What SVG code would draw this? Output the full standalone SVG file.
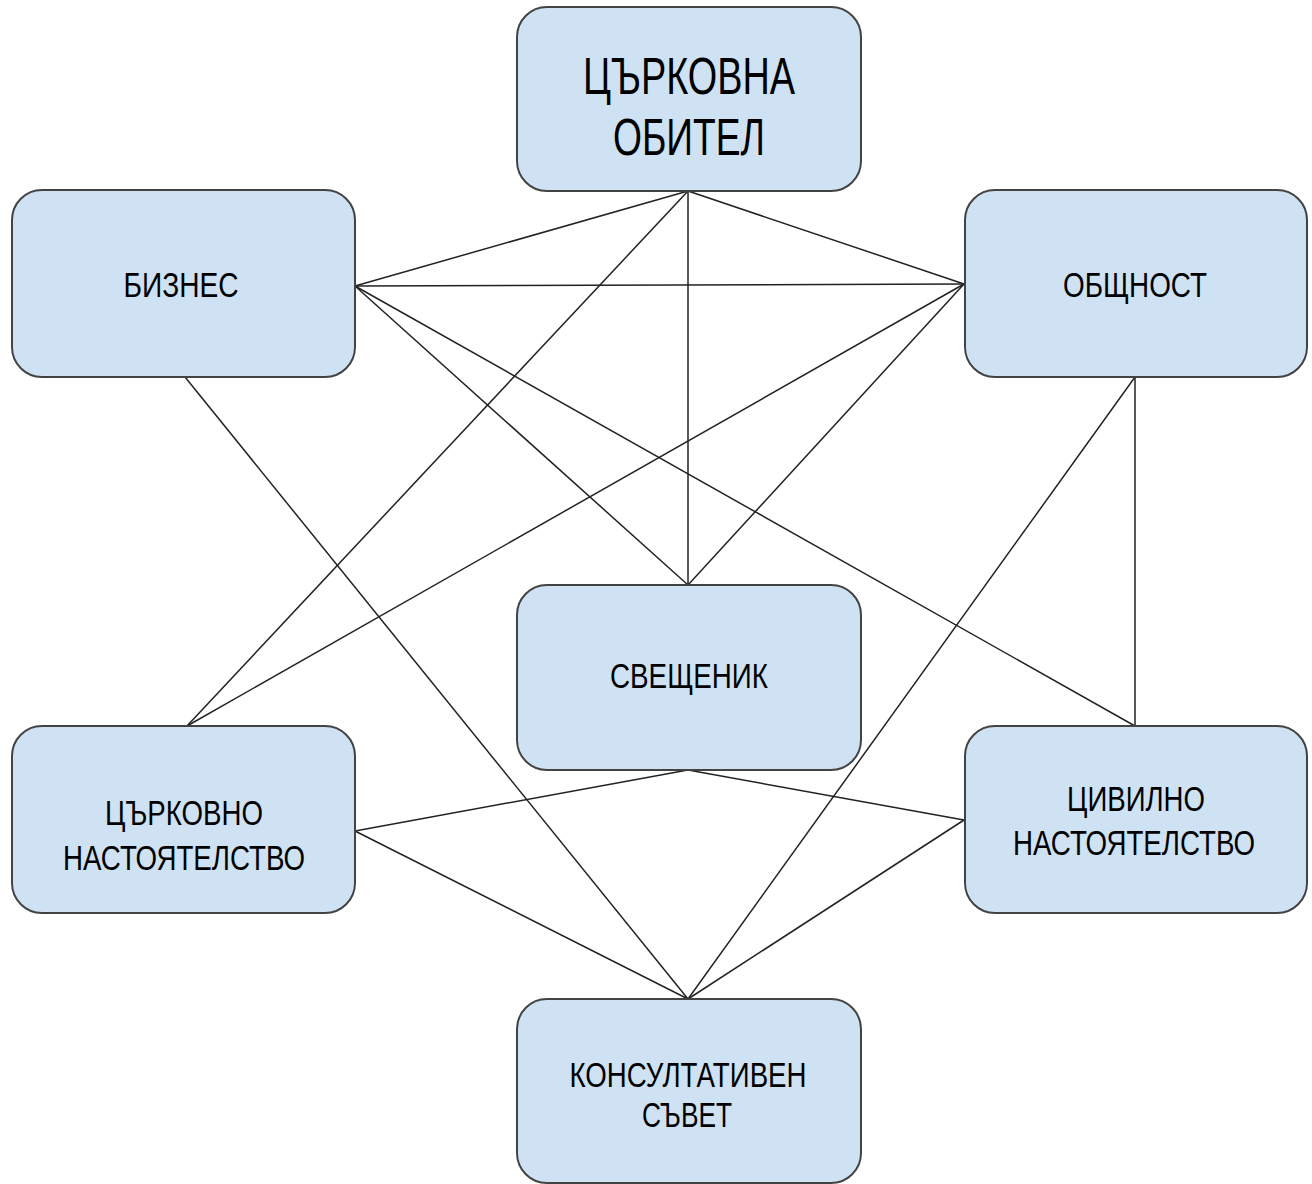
<svg xmlns="http://www.w3.org/2000/svg" width="1312" height="1184" viewBox="0 0 1312 1184">
<style>
.box{fill:#cfe2f3;stroke:#434343;stroke-width:2}
.t{font-family:"Liberation Sans",Arial,sans-serif;font-size:35px;fill:#000;text-anchor:middle}
.big{font-size:51px}
.conn line{stroke:#222;stroke-width:1.5}
</style>
<rect width="1312" height="1184" fill="#ffffff"/>
<g id="connectors" class="conn">
<line x1="688" y1="191" x2="355" y2="286"/>
<line x1="688" y1="191" x2="964" y2="284"/>
<line x1="688" y1="191" x2="688" y2="585"/>
<line x1="688" y1="191" x2="187" y2="726"/>
<line x1="355" y1="286" x2="964" y2="284"/>
<line x1="355" y1="286" x2="688" y2="585"/>
<line x1="355" y1="286" x2="1135" y2="726"/>
<line x1="964" y1="284" x2="688" y2="585"/>
<line x1="964" y1="284" x2="187" y2="726"/>
<line x1="185" y1="377" x2="688" y2="999"/>
<line x1="1135" y1="377" x2="688" y2="999"/>
<line x1="1135" y1="377" x2="1135" y2="726"/>
<line x1="688" y1="770" x2="355" y2="831"/>
<line x1="688" y1="770" x2="964" y2="820"/>
<line x1="355" y1="831" x2="688" y2="999"/>
<line x1="964" y1="820" x2="688" y2="999"/>
</g>
<g id="n-obitel">
<rect class="box" x="517" y="7" width="344" height="184" rx="30"/>
<text class="t big" x="689" y="94" textLength="212" lengthAdjust="spacingAndGlyphs">ЦЪРКОВНА</text>
<text class="t big" x="689" y="155" textLength="152" lengthAdjust="spacingAndGlyphs">ОБИТЕЛ</text>
</g>
<g id="n-biznes">
<rect class="box" x="12" y="190" width="343" height="187" rx="30"/>
<text class="t" x="181" y="297" textLength="115" lengthAdjust="spacingAndGlyphs">БИЗНЕС</text>
</g>
<g id="n-obshtnost">
<rect class="box" x="965" y="190" width="342" height="187" rx="30"/>
<text class="t" x="1135" y="297" textLength="144" lengthAdjust="spacingAndGlyphs">ОБЩНОСТ</text>
</g>
<g id="n-sveshtenik">
<rect class="box" x="517" y="585" width="344" height="185" rx="30"/>
<text class="t" x="689" y="688" textLength="158" lengthAdjust="spacingAndGlyphs">СВЕЩЕНИК</text>
</g>
<g id="n-cyrk-nast">
<rect class="box" x="12" y="726" width="343" height="187" rx="30"/>
<text class="t" x="184" y="825" textLength="158" lengthAdjust="spacingAndGlyphs">ЦЪРКОВНО</text>
<text class="t" x="184" y="870" textLength="242" lengthAdjust="spacingAndGlyphs">НАСТОЯТЕЛСТВО</text>
</g>
<g id="n-civ-nast">
<rect class="box" x="965" y="726" width="342" height="187" rx="30"/>
<text class="t" x="1136" y="811" textLength="138" lengthAdjust="spacingAndGlyphs">ЦИВИЛНО</text>
<text class="t" x="1134" y="855" textLength="242" lengthAdjust="spacingAndGlyphs">НАСТОЯТЕЛСТВО</text>
</g>
<g id="n-konsult">
<rect class="box" x="517" y="999" width="344" height="184" rx="30"/>
<text class="t" x="688" y="1087" textLength="237" lengthAdjust="spacingAndGlyphs">КОНСУЛТАТИВЕН</text>
<text class="t" x="687" y="1127" textLength="90" lengthAdjust="spacingAndGlyphs">СЪВЕТ</text>
</g>
</svg>
